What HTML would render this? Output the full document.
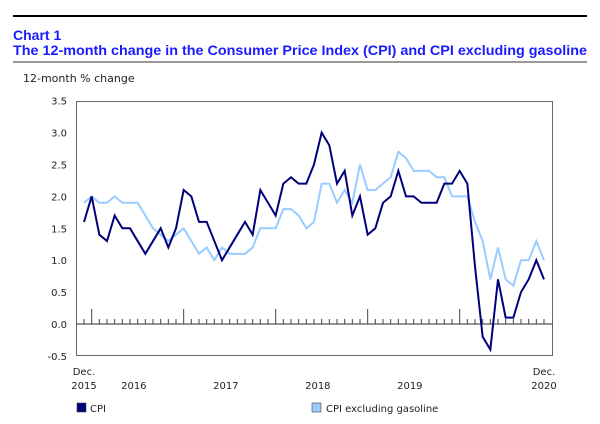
<!DOCTYPE html>
<html><head><meta charset="utf-8"><style>
body{margin:0;background:#fff;width:600px;height:420px;overflow:hidden;font-family:Verdana,"DejaVu Sans",sans-serif}
svg text{font-family:"DejaVu Sans",Verdana,sans-serif}
</style></head><body>
<svg id="chart" width="600" height="420" xmlns="http://www.w3.org/2000/svg">
<line x1="13" y1="16" x2="587" y2="16" stroke="#000" stroke-width="2"/>
<text x="13" y="40" fill="#1a1aff" font-weight="bold" font-size="14" style="font-family:'Liberation Sans',sans-serif">Chart 1</text>
<text x="13" y="55" fill="#1a1aff" font-weight="bold" font-size="14" textLength="574" lengthAdjust="spacingAndGlyphs" style="font-family:'Liberation Sans',sans-serif">The 12-month change in the Consumer Price Index (CPI) and CPI excluding gasoline</text>
<line x1="13" y1="62" x2="587" y2="62" stroke="#333" stroke-width="1"/>
<text x="23" y="82" font-size="11" fill="#222">12-month % change</text>
<rect x="76.5" y="101.5" width="476" height="254" fill="none" stroke="#666" stroke-width="1"/>
<g id="g"></g>
<rect x="77" y="403" width="9" height="9" fill="#00007a" stroke="#444" stroke-width="0.6"/>
<text x="90" y="412" font-size="10" fill="#222">CPI</text>
<rect x="312" y="403" width="9" height="9" fill="#99ccff" stroke="#444" stroke-width="0.6"/>
<text x="326" y="412" font-size="10" fill="#222">CPI excluding gasoline</text>
</svg>
<script>
const yTicks=[-0.5,0,0.5,1,1.5,2,2.5,3,3.5];
const yTickLabels=["-0.5","0.0","0.5","1.0","1.5","2.0","2.5","3.0","3.5"];
const cpi=[1.6,2.0,1.4,1.3,1.7,1.5,1.5,1.3,1.1,1.3,1.5,1.2,1.5,2.1,2.0,1.6,1.6,1.3,1.0,1.2,1.4,1.6,1.4,2.1,1.9,1.7,2.2,2.3,2.2,2.2,2.5,3.0,2.8,2.2,2.4,1.7,2.0,1.4,1.5,1.9,2.0,2.4,2.0,2.0,1.9,1.9,1.9,2.2,2.2,2.4,2.2,0.9,-0.2,-0.4,0.7,0.1,0.1,0.5,0.7,1.0,0.7];
const exGas=[1.9,2.0,1.9,1.9,2.0,1.9,1.9,1.9,1.7,1.5,1.4,1.3,1.4,1.5,1.3,1.1,1.2,1.0,1.2,1.1,1.1,1.1,1.2,1.5,1.5,1.5,1.8,1.8,1.7,1.5,1.6,2.2,2.2,1.9,2.1,1.9,2.5,2.1,2.1,2.2,2.3,2.7,2.6,2.4,2.4,2.4,2.3,2.3,2.0,2.0,2.0,1.6,1.3,0.7,1.2,0.7,0.6,1.0,1.0,1.3,1.0];
const yearLabels=["2016","2017","2018","2019"];
const ns="http://www.w3.org/2000/svg";
const g=document.getElementById('g');
const X=i=>84+i*(460/60);
const Y=v=>324-v*63.8;
function el(t,a){const e=document.createElementNS(ns,t);for(const k in a)e.setAttribute(k,a[k]);g.appendChild(e);return e;}
yTicks.forEach((v,i)=>{const t=el('text',{x:67,y:Y(v)+4,'text-anchor':'end','font-size':10,fill:'#222'});t.textContent=yTickLabels[i];

});
const z=el('line',{x1:76,x2:553,y1:Y(0),y2:Y(0),stroke:'#555','stroke-width':1.2});


for(let i=0;i<cpi.length;i++){const tall=(i%12===1);const t=el('line',{x1:X(i),x2:X(i),y1:Y(0),y2:Y(0)-(tall?15:5),stroke:'#444','stroke-width':1});

}
function line(d,c,n){const p=el('polyline',{points:d.map((v,i)=>X(i)+','+Y(v)).join(' '),fill:'none',stroke:c,'stroke-width':2,'stroke-linejoin':'miter'});

}
line(exGas,'#99ccff','ex-gasoline-line');
line(cpi,'#00007a','cpi-line');
function lab(x,y,s,n){const t=el('text',{x:x,y:y,'text-anchor':'middle','font-size':10,fill:'#222'});t.textContent=s;

}
lab(X(0),375,'Dec.','x-label-dec-start');lab(X(0),389,'2015','x-label-2015');
yearLabels.forEach((s,k)=>lab(X(1+12*k+5.5),389,s,'x-label-year'));
lab(X(60),375,'Dec.','x-label-dec-end');lab(X(60),389,'2020','x-label-2020');
</script>
</body></html>
